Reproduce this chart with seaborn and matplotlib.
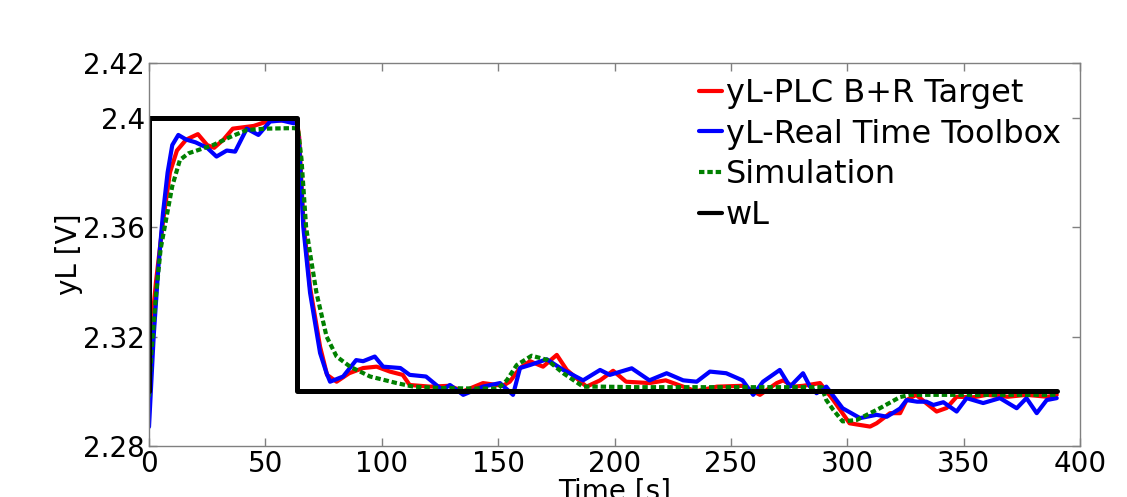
import matplotlib
matplotlib.use("Agg")
import matplotlib.pyplot as plt
import seaborn as sns
import pandas as pd

# ---------------- data ----------------
t_plc = [0, 1, 3, 6, 9, 12, 16, 21, 25, 28, 32, 36, 45, 52, 60, 63.5, 64.5,
         66.3, 69.2, 73.5, 76.5, 80.6, 86, 92, 97.8, 103.5, 109, 112, 120.7, 129,
         135, 143.5, 152, 155, 159.4, 163.7, 169.3, 175.2, 179.5, 188, 193.8,
         199.4, 205, 215, 222, 235, 244, 255, 262.5, 269.7, 272.5, 276.8, 281,
         288.3, 294, 301, 309.8, 312.6, 318.4, 322.7, 325.5, 329.6, 334, 338.4,
         342.7, 347, 354, 360, 369, 377, 386, 390]
y_plc = [2.295, 2.322, 2.340, 2.362, 2.380, 2.388, 2.392, 2.394, 2.390, 2.389,
         2.392, 2.396, 2.397, 2.399, 2.399, 2.399, 2.393,
         2.3626, 2.338, 2.3163, 2.306, 2.3035, 2.3066, 2.3085, 2.309, 2.3072,
         2.306, 2.3023, 2.3017, 2.302, 2.300, 2.303, 2.302, 2.3035, 2.3085,
         2.311, 2.309, 2.3133, 2.3078, 2.3017, 2.304, 2.3075, 2.3035, 2.303,
         2.304, 2.300, 2.3017, 2.302, 2.2987, 2.303, 2.304, 2.3017, 2.302,
         2.303, 2.2968, 2.2883, 2.2871, 2.2883, 2.292, 2.292, 2.2968, 2.2987,
         2.2956, 2.2926, 2.2939, 2.298, 2.2978, 2.2987, 2.298, 2.2987, 2.298,
         2.2987]

t_rtt = [0, 2, 4, 6, 8, 10, 12.6, 16, 20, 25, 29, 33.4, 37, 42, 47, 52, 57, 62,
         63.5, 64.5, 66.3, 69.2, 73.5, 76.3, 77.8, 83.4, 89, 92, 97, 100.6, 108,
         112, 119, 126, 129.3, 135, 143.5, 150.8, 156.4, 159.4, 163.7, 170.9,
         178, 186.5, 193.8, 198, 207.4, 215, 222.4, 229.5, 235.3, 241, 248, 255,
         259.6, 263.8, 271, 275.4, 281, 284, 286.8, 291, 298, 305.5, 312.6, 317,
         322.7, 325.5, 330, 334, 337, 341.3, 347, 351.3, 358.4, 365.6, 372.8,
         377, 381.4, 385.7, 390]
y_rtt = [2.287, 2.320, 2.345, 2.365, 2.380, 2.390, 2.3937, 2.392, 2.391, 2.389,
         2.3858, 2.388, 2.3876, 2.396, 2.3937, 2.3986, 2.399, 2.398, 2.398,
         2.390, 2.360, 2.336, 2.314, 2.3066, 2.3035, 2.3054, 2.3114, 2.311,
         2.3127, 2.309, 2.3085, 2.306, 2.3054, 2.3005, 2.3023, 2.2987, 2.3017,
         2.303, 2.2987, 2.3085, 2.3096, 2.3117, 2.3078, 2.304, 2.3078, 2.306,
         2.3084, 2.304, 2.3066, 2.304, 2.3035, 2.3072, 2.3066, 2.304, 2.2987,
         2.3035, 2.3078, 2.3017, 2.3066, 2.3017, 2.2993, 2.3017, 2.2938,
         2.2902, 2.2914, 2.2907, 2.2937, 2.2968, 2.2962, 2.2962, 2.295, 2.296,
         2.2926, 2.2975, 2.2957, 2.2975, 2.2938, 2.2975, 2.292, 2.2968, 2.2975]

t_sim = [0, 1, 3, 5, 7.6, 10, 13.3, 17, 20.5, 27.5, 35, 42, 50, 62, 64, 65.5,
         67.5, 69.2, 72, 76.3, 80.6, 86.4, 95, 106.4, 113.5, 125, 140, 150,
         153.7, 158, 164.4, 171, 178, 186.5, 193.8, 210, 240, 270, 289, 291,
         294, 298, 304, 314, 322.7, 327, 350, 390]
y_sim = [2.298, 2.314, 2.335, 2.352, 2.364, 2.375, 2.3846, 2.387, 2.388, 2.390,
         2.393, 2.3955, 2.396, 2.3962, 2.396, 2.385, 2.360, 2.3504, 2.3358,
         2.320, 2.3127, 2.309, 2.3054, 2.303, 2.3017, 2.3012, 2.301, 2.301,
         2.304, 2.3096, 2.313, 2.3115, 2.3066, 2.3017, 2.3017, 2.3015, 2.3015,
         2.3015, 2.3015, 2.2968, 2.2932, 2.289, 2.2895, 2.2938, 2.2979, 2.2987,
         2.2987, 2.2987]

t_wl = [0, 0, 63.5, 63.5, 390]
y_wl = [2.30, 2.40, 2.40, 2.30, 2.30]

labels = ["yL-PLC B+R Target", "yL-Real Time Toolbox", "Simulation", "wL"]
x_ticks = [0, 50, 100, 150, 200, 250, 300, 350, 400]
y_ticks = [2.28, 2.32, 2.36, 2.40, 2.42]
y_ticklabels = ["2.28", "2.32", "2.36", "2.4", "2.42"]

# ---------------- style ----------------
sns.set_style("white")
plt.rcParams["font.family"] = ["DejaVu Sans"]
plt.rcParams["text.color"] = "black"
plt.rcParams["axes.labelcolor"] = "black"

fig = plt.figure(figsize=(11.27, 4.97), dpi=100)
ax = fig.add_axes([149 / 1127, 1 - 446 / 497, 931 / 1127, 383 / 497])

df_plc = pd.DataFrame({"t": t_plc, "y": y_plc})
df_rtt = pd.DataFrame({"t": t_rtt, "y": y_rtt})
df_sim = pd.DataFrame({"t": t_sim, "y": y_sim})
df_wl = pd.DataFrame({"t": t_wl, "y": y_wl})

sns.lineplot(data=df_plc, x="t", y="y", ax=ax, color="#ff0000", lw=3.0,
             sort=False, estimator=None, label=labels[0])
sns.lineplot(data=df_rtt, x="t", y="y", ax=ax, color="#0000ff", lw=3.0,
             sort=False, estimator=None, label=labels[1])
sns.lineplot(data=df_sim, x="t", y="y", ax=ax, color="#008000", lw=3.0,
             sort=False, estimator=None, label=labels[2],
             linestyle=(0, (1.3, 0.7)))
sns.lineplot(data=df_wl, x="t", y="y", ax=ax, color="#000000", lw=3.6,
             sort=False, estimator=None, label=labels[3])

ax.set_xlim(0, 400)
ax.set_ylim(2.28, 2.42)
ax.set_xticks(x_ticks)
ax.set_xticklabels([str(v) for v in x_ticks])
ax.set_yticks(y_ticks)
ax.set_yticklabels(y_ticklabels)

spine_col = "#808080"
for s in ax.spines.values():
    s.set_visible(True)
    s.set_color(spine_col)
    s.set_linewidth(1.0)
ax.tick_params(direction="in", length=6, width=1.0, color=spine_col,
               labelsize=20, labelcolor="black", top=True, right=True,
               bottom=True, left=True, pad=3)
ax.set_xlabel("Time [s]", fontsize=20, labelpad=0, color="black")
ax.set_ylabel("yL [V]", fontsize=20, labelpad=0, color="black")

leg = ax.legend(loc="upper left", bbox_to_anchor=(699 / 1127, 1 - 78 / 497),
                bbox_transform=fig.transFigure, frameon=False, fontsize=23,
                handlelength=0.72, handletextpad=0.12, labelspacing=0.3,
                borderpad=0, borderaxespad=0)
for txt in leg.get_texts():
    txt.set_color("black")
for h in leg.get_lines():
    h.set_linewidth(3.0)

fig.savefig("out.png", dpi=100)
